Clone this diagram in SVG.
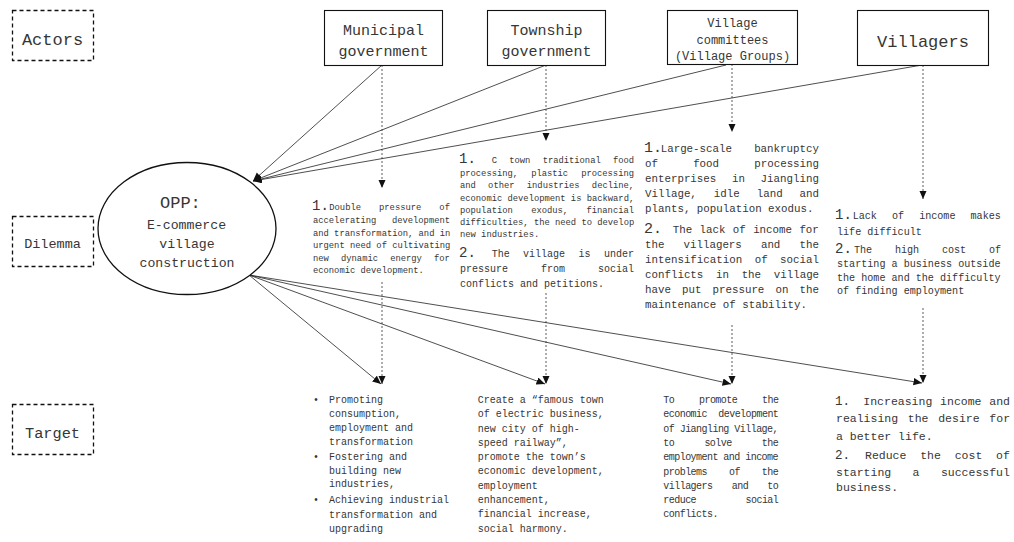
<svg xmlns="http://www.w3.org/2000/svg" width="1014" height="542" viewBox="0 0 1014 542">
  <style>
    text { font-family: "Liberation Mono", "DejaVu Sans Mono", monospace; fill: #363636; }
    .lbl { fill: none; stroke: #111; stroke-width: 1.3; stroke-dasharray: 4 3; }
    .box { fill: #fff; stroke: #111; stroke-width: 1.1; }
    .mid { text-anchor: middle; }
    .num { font-size: 14px; }
    .solid { fill: none; stroke: #222; stroke-width: 0.8; }
    .dash { fill: none; stroke: #333; stroke-width: 0.8; stroke-dasharray: 2 2; }
    .a { font-size: 8.8px; }
    .b { font-size: 10px; }
    .c { font-size: 10.8px; }
    .d { font-size: 10.1px; }
    .e { font-size: 10px; }
    .g { font-size: 10px; letter-spacing: -0.54px; }
    .h { font-size: 11.5px; }
  </style>
  <defs>
    <marker id="arrow" markerUnits="userSpaceOnUse" markerWidth="9" markerHeight="8" refX="8.5" refY="3.75" orient="auto">
      <path d="M0,0 L8.5,3.75 L0,7.5 z" fill="#111"/>
    </marker>
  </defs>

  <rect width="1014" height="542" fill="#fff"/>

  <!-- row labels -->
  <g id="label-actors">
    <rect class="lbl" x="12.5" y="10.5" width="81" height="50"/>
    <text class="mid" x="52.5" y="45" font-size="17">Actors</text>
  </g>
  <g id="label-dilemma">
    <rect class="lbl" x="12.5" y="216.5" width="81" height="50"/>
    <text class="mid" x="52.5" y="248" font-size="13.5">Dilemma</text>
  </g>
  <g id="label-target">
    <rect class="lbl" x="12.5" y="404.5" width="81" height="50"/>
    <text class="mid" x="52.5" y="438" font-size="15.3">Target</text>
  </g>

  <!-- connectors -->
  <g id="connectors">
    <!-- actors to the OPP -->
    <line class="solid" x1="382" y1="65" x2="253" y2="181" marker-end="url(#arrow)"/>
    <line class="solid" x1="546" y1="65" x2="253" y2="181" marker-end="url(#arrow)"/>
    <line class="solid" x1="726" y1="65" x2="253" y2="181" marker-end="url(#arrow)"/>
    <line class="solid" x1="922" y1="65" x2="253" y2="181" marker-end="url(#arrow)"/>
    <!-- actors to their dilemmas -->
    <line class="dash" x1="382" y1="65" x2="382" y2="188" marker-end="url(#arrow)"/>
    <line class="dash" x1="546" y1="65" x2="546" y2="141" marker-end="url(#arrow)"/>
    <line class="dash" x1="732" y1="64" x2="732" y2="132" marker-end="url(#arrow)"/>
    <line class="dash" x1="923" y1="65" x2="923" y2="199" marker-end="url(#arrow)"/>
    <!-- dilemmas to targets -->
    <line class="dash" x1="382" y1="282" x2="382" y2="384" marker-end="url(#arrow)"/>
    <line class="dash" x1="546" y1="293" x2="546" y2="384" marker-end="url(#arrow)"/>
    <line class="dash" x1="732" y1="325" x2="732" y2="384" marker-end="url(#arrow)"/>
    <line class="dash" x1="923" y1="308" x2="923" y2="383" marker-end="url(#arrow)"/>
    <!-- OPP to targets -->
    <line class="solid" x1="249" y1="275" x2="381" y2="384" marker-end="url(#arrow)"/>
    <line class="solid" x1="249" y1="275" x2="545" y2="384" marker-end="url(#arrow)"/>
    <line class="solid" x1="249" y1="275" x2="731" y2="384" marker-end="url(#arrow)"/>
    <line class="solid" x1="249" y1="275" x2="922" y2="383" marker-end="url(#arrow)"/>
  </g>

  <!-- actors -->
  <g id="actor-municipal">
    <rect class="box" x="324.5" y="10.5" width="118" height="55"/>
    <text class="mid" x="383.5" y="35" font-size="15">Municipal</text>
    <text class="mid" x="383.5" y="56" font-size="15">government</text>
  </g>
  <g id="actor-township">
    <rect class="box" x="487.5" y="10.5" width="118" height="55"/>
    <text class="mid" x="546.5" y="35" font-size="15">Township</text>
    <text class="mid" x="546.5" y="56" font-size="15">government</text>
  </g>
  <g id="actor-committees">
    <rect class="box" x="667.5" y="10.5" width="130" height="54"/>
    <text class="mid" x="732.5" y="27" font-size="12">Village</text>
    <text class="mid" x="732.5" y="44" font-size="12">committees</text>
    <text class="mid" x="732.5" y="60" font-size="12">(Village Groups)</text>
  </g>
  <g id="actor-villagers">
    <rect class="box" x="857.5" y="10.5" width="131" height="55"/>
    <text class="mid" x="923" y="47" font-size="17">Villagers</text>
  </g>

  <!-- obligatory passage point -->
  <g id="opp">
    <ellipse cx="187" cy="228.5" rx="89" ry="66" fill="#fff" stroke="#111" stroke-width="1.3"/>
    <text x="160" y="208" font-size="17">OPP:</text>
    <text class="mid" x="186.5" y="229" font-size="13.2">E-commerce</text>
    <text class="mid" x="187" y="248" font-size="13.2">village</text>
    <text class="mid" x="187" y="267" font-size="13.2">construction</text>
  </g>

  <!-- dilemmas -->
  <g id="dilemma-municipal" class="a">
    <text class="num" x="312" y="210">1.</text>
    <text x="329.3" y="210" word-spacing="12.8">Double pressure of</text>
    <text x="313" y="223.3" word-spacing="10.3">accelerating development</text>
    <text x="313" y="235.7">and transformation, and in</text>
    <text x="313" y="248.3">urgent need of cultivating</text>
    <text x="313" y="260.7" word-spacing="6.9">new dynamic energy for</text>
    <text x="313" y="273.3">economic development.</text>
  </g>
  <g id="dilemma-township" class="a">
    <text class="num" x="459" y="162.7">1.</text>
    <text x="491.7" y="162.7" word-spacing="7">C town traditional food</text>
    <text x="460" y="175.7" word-spacing="7.8">processing, plastic processing</text>
    <text x="460" y="188.3" word-spacing="7">and other industries decline,</text>
    <text x="460" y="200.7">economic development is backward,</text>
    <text x="460" y="212.7" word-spacing="13.1">population exodus, financial</text>
    <text x="460" y="225">difficulties, the need to develop</text>
    <text x="460" y="237.3">new industries.</text>
    <text class="num" x="459" y="257.3">2.</text>
    <text class="b" x="491.7" y="257.3" word-spacing="7.4">The village is under</text>
    <text class="b" x="460" y="272.3" word-spacing="27">pressure from social</text>
    <text class="b" x="460" y="286.7">conflicts and petitions.</text>
  </g>
  <g id="dilemma-committees" class="c">
    <text x="644" y="151.7" font-size="15">1.</text>
    <text x="660.7" y="151.7" word-spacing="15.7">Large-scale bankruptcy</text>
    <text x="645" y="166.7" word-spacing="28.7">of food processing</text>
    <text x="645" y="181.7" word-spacing="9.2">enterprises in Jiangling</text>
    <text x="645" y="196.7" word-spacing="10.5">Village, idle land and</text>
    <text x="645" y="211.7">plants, population exodus.</text>
    <text x="644" y="232.7" font-size="15">2.</text>
    <text x="672.7" y="232.7" word-spacing="0.9">The lack of income for</text>
    <text x="645" y="248.3" word-spacing="12.6">the villagers and the</text>
    <text x="645" y="263.3" word-spacing="6">intensification of social</text>
    <text x="645" y="278.3" word-spacing="6.2">conflicts in the village</text>
    <text x="645" y="293.3" word-spacing="4.6">have put pressure on the</text>
    <text x="645" y="308.3">maintenance of stability.</text>
  </g>
  <g id="dilemma-villagers" class="d">
    <text class="num" x="835" y="219">1.</text>
    <text x="852.7" y="219" word-spacing="9">Lack of income makes</text>
    <text x="837" y="235">life difficult</text>
    <text class="num" x="835" y="253.3">2.</text>
    <text x="854" y="253.3" word-spacing="16.7">The high cost of</text>
    <text x="837" y="267.3">starting a business outside</text>
    <text x="837" y="280.7">the home and the difficulty</text>
    <text x="837" y="294.3">of finding employment</text>
  </g>

  <!-- targets -->
  <g id="target-municipal" class="e">
    <text x="313" y="402.7">•</text>
    <text x="329" y="402.7">Promoting</text>
    <text x="329" y="416.7">consumption,</text>
    <text x="329" y="431">employment and</text>
    <text x="329" y="445">transformation</text>
    <text x="313" y="460">•</text>
    <text x="329" y="460">Fostering and</text>
    <text x="329" y="474.3">building new</text>
    <text x="329" y="486.7">industries,</text>
    <text x="313" y="503.3">•</text>
    <text x="329" y="503.3">Achieving industrial</text>
    <text x="329" y="517.7">transformation and</text>
    <text x="329" y="531.7">upgrading</text>
  </g>
  <g id="target-township" class="e">
    <text x="477.7" y="402.7">Create a “famous town</text>
    <text x="477.7" y="417.3">of electric business,</text>
    <text x="477.7" y="431.7">new city of high-</text>
    <text x="477.7" y="445.5">speed railway”,</text>
    <text x="477.7" y="460">promote the town’s</text>
    <text x="477.7" y="474.3">economic development,</text>
    <text x="477.7" y="488.5">employment</text>
    <text x="477.7" y="502.8">enhancement,</text>
    <text x="477.7" y="517.3">financial increase,</text>
    <text x="477.7" y="531.7">social harmony.</text>
  </g>
  <g id="target-committees" class="g">
    <text x="663.3" y="402.7" word-spacing="19.3">To promote the</text>
    <text x="663.3" y="417.3" word-spacing="5.8">economic development</text>
    <text x="663.3" y="431.7">of Jiangling Village,</text>
    <text x="663.3" y="446" word-spacing="24.7">to solve the</text>
    <text x="663.3" y="460.3">employment and income</text>
    <text x="663.3" y="474.5" word-spacing="16.5">problems of the</text>
    <text x="663.3" y="488.8" word-spacing="13.8">villagers and to</text>
    <text x="663.3" y="503" word-spacing="44">reduce social</text>
    <text x="663.3" y="517.3">conflicts.</text>
  </g>
  <g id="target-villagers" class="h">
    <text x="835" y="405" font-size="12.5">1.</text>
    <text x="863.3" y="405" word-spacing="0.9">Increasing income and</text>
    <text x="836" y="422.3" word-spacing="2.8">realising the desire for</text>
    <text x="836" y="439.5">a better life.</text>
    <text x="835" y="458.5" font-size="12.5">2.</text>
    <text x="865" y="458.5" word-spacing="6.9">Reduce the cost of</text>
    <text x="836" y="475.5" word-spacing="14.5">starting a successful</text>
    <text x="836" y="491.3">business.</text>
  </g>
</svg>
